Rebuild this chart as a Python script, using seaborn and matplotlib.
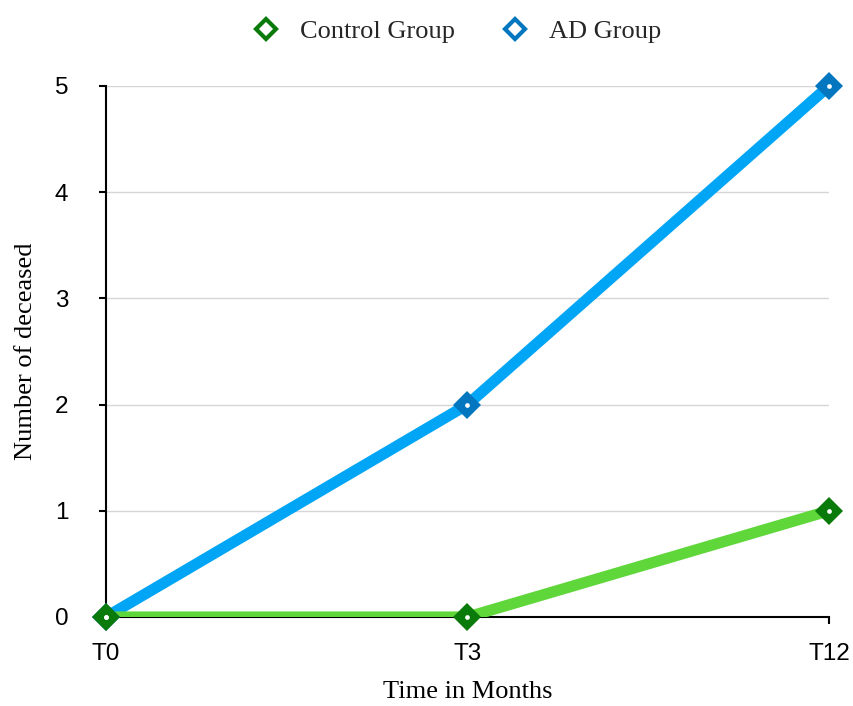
import matplotlib
matplotlib.use("Agg")
import matplotlib.pyplot as plt
import seaborn as sns
import pandas as pd
from matplotlib.lines import Line2D

# Data
time_points = ["T0", "T3", "T12"]
control_deceased = [0, 0, 1]
ad_deceased = [0, 2, 5]
groups = ["Control Group", "AD Group"]

line_colors = {"Control Group": "#5fd63a", "AD Group": "#00a5f6"}
marker_colors = {"Control Group": "#0a7a0a", "AD Group": "#0277c0"}

df = pd.DataFrame({
    "time": time_points * 2,
    "deceased": control_deceased + ad_deceased,
    "group": [groups[0]] * 3 + [groups[1]] * 3,
})

sns.set_theme(style="white")
plt.rcParams["font.family"] = ["Liberation Sans", "DejaVu Sans"]

fig = plt.figure(figsize=(8.54, 7.06), dpi=100)
ax = fig.add_axes([0.1241, 0.1261, 0.8466, 0.7521])

# draw AD first so the control group sits on top at the shared origin
for g in ["AD Group", "Control Group"]:
    sub = df[df["group"] == g]
    sns.lineplot(data=sub, x="time", y="deceased", ax=ax, color=line_colors[g],
                 linewidth=8, sort=False, legend=False, zorder=3,
                 solid_capstyle="butt")
for g in ["AD Group", "Control Group"]:
    sub = df[df["group"] == g]
    sns.lineplot(data=sub, x="time", y="deceased", ax=ax, color=marker_colors[g],
                 linestyle="", marker="D", markersize=14.5, markeredgewidth=0,
                 sort=False, legend=False, zorder=4, clip_on=False)
    sns.lineplot(data=sub, x="time", y="deceased", ax=ax, color="white",
                 linestyle="", marker="o", markersize=3.4, markeredgewidth=0,
                 sort=False, legend=False, zorder=5, clip_on=False)

ax.set_xlim(0, 2)
ax.set_ylim(0, 5)
ax.set_yticks(range(0, 6))
ax.yaxis.grid(True, color="#d6d6d6", linewidth=1.0)
ax.xaxis.grid(False)
ax.set_axisbelow(True)

for s in ["top", "right"]:
    ax.spines[s].set_visible(False)
for s in ["left", "bottom"]:
    ax.spines[s].set_color("black")
    ax.spines[s].set_linewidth(1.5)
    ax.spines[s].set_zorder(2)

ax.tick_params(axis="both", which="major", direction="out", length=5, width=1.5,
               color="black", labelsize=17.5, labelcolor="black", bottom=True, left=True)
ax.tick_params(axis="x", pad=14)
ax.tick_params(axis="y", pad=22)

serif = ["Liberation Serif", "DejaVu Serif"]
ax.set_xlabel("Time in Months", fontsize=19, family=serif, labelpad=11, color="black")
ax.set_ylabel("Number of deceased", fontsize=19, family=serif, labelpad=13, color="black")

handles = [
    Line2D([], [], linestyle="", marker="D", markersize=10, markerfacecolor="white",
           markeredgecolor=marker_colors[g], markeredgewidth=3)
    for g in groups
]
fig.legend(handles, groups, loc="upper center", bbox_to_anchor=(0.532, 1.006), ncol=2,
           frameon=False, prop={"family": serif, "size": 19}, handletextpad=0.6,
           columnspacing=1.55, handlelength=1.4)

fig.savefig("out.png", dpi=100)
